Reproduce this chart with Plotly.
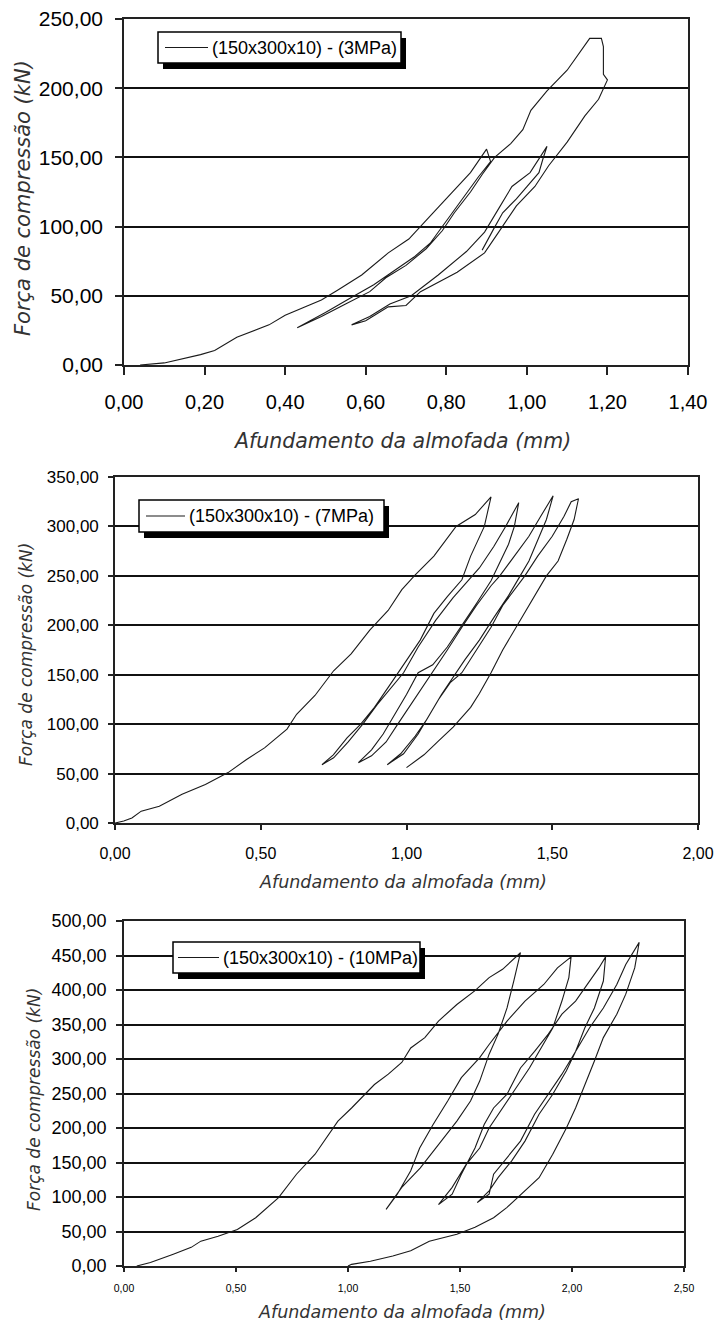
import plotly.graph_objects as go

# ---------------- data ----------------
# Chart 1: (150x300x10) - (3MPa)
disp_3mpa = [0.04, 0.10, 0.19, 0.225, 0.28, 0.36, 0.40, 0.49, 0.53, 0.59, 0.656, 0.707, 0.758, 0.80, 0.86, 0.90,
             0.91, 0.88, 0.85, 0.82, 0.79, 0.76, 0.72, 0.67, 0.62, 0.56, 0.50, 0.43,
             0.49, 0.55, 0.61, 0.65, 0.70, 0.75, 0.79, 0.82, 0.86, 0.89, 0.92, 0.96, 0.99, 1.01, 1.05, 1.10, 1.156,
             1.185, 1.19, 1.19, 1.20,
             1.178, 1.144, 1.10, 1.054, 1.02, 0.974, 0.93, 0.895, 0.827, 0.78, 0.736, 0.70, 0.656, 0.60, 0.565,
             0.61, 0.66, 0.713, 0.78, 0.85, 0.895, 0.93, 0.963, 1.008, 1.04, 1.05,
             1.04, 1.03, 0.974, 0.94, 0.917, 0.889]
force_3mpa = [0, 1.5, 7.5, 10.5, 20, 29, 36, 47, 54, 65, 81, 91, 107, 120, 139, 156,
              147, 136, 124, 112, 100, 88, 78, 68, 58, 48, 38, 27,
              35, 44, 53, 63, 72, 84, 97, 110, 125, 138, 150, 160, 170, 184, 198, 213, 236,
              236, 230, 210, 206,
              192, 180, 161, 144, 129, 115, 96, 81, 67, 60, 53, 43, 42, 32, 29,
              35, 44, 50, 65, 82, 96, 113, 129, 139, 154, 158,
              149, 139, 120, 110, 98, 83]

# Chart 2: (150x300x10) - (7MPa)
disp_7mpa = [0.0, 0.03, 0.058, 0.09, 0.152, 0.23, 0.31, 0.388, 0.45, 0.513, 0.59, 0.623, 0.686, 0.75, 0.81, 0.874,
             0.937, 0.984, 1.03, 1.094, 1.17, 1.236, 1.29,
             1.267, 1.22, 1.19, 1.14, 1.094, 1.047, 1.0, 0.953, 0.89, 0.843, 0.796, 0.749, 0.71,
             0.75, 0.80, 0.85, 0.90, 0.95, 0.99, 1.04, 1.10, 1.16, 1.21, 1.25, 1.30, 1.34, 1.385,
             1.37, 1.35, 1.31, 1.29, 1.24, 1.19, 1.14, 1.09, 1.04, 1.00, 0.96, 0.92, 0.88, 0.835,
             0.88, 0.93, 0.97, 1.02, 1.06, 1.09, 1.14, 1.19, 1.24, 1.29, 1.32, 1.37, 1.42, 1.46, 1.503,
             1.48, 1.45, 1.42, 1.39, 1.35, 1.30, 1.25, 1.20, 1.17, 1.12, 1.08, 1.04, 0.99, 0.934,
             0.98, 1.03, 1.07, 1.11, 1.15, 1.19, 1.24, 1.29, 1.33, 1.38, 1.406, 1.45, 1.50, 1.54, 1.565, 1.59,
             1.575, 1.55, 1.52, 1.48, 1.44, 1.39, 1.33, 1.29, 1.25, 1.22, 1.16, 1.11, 1.06, 1.00]
force_7mpa = [0, 2, 5, 12, 17, 29, 39, 51, 64, 76, 95, 110, 129, 154, 171, 195,
              215, 236, 251, 270, 300, 312, 330,
              300, 270, 246, 229, 212, 185, 164, 144, 117, 100, 86, 69, 59,
              66, 82, 100, 120, 138, 152, 178, 205, 228, 245, 258, 280, 300, 324,
              300, 282, 258, 245, 222, 200, 178, 160, 152, 130, 110, 90, 74, 61,
              68, 82, 100, 122, 140, 152, 175, 198, 220, 240, 250, 270, 290, 310, 331,
              307, 285, 265, 250, 230, 208, 185, 165, 152, 130, 110, 90, 70, 59,
              70, 88, 105, 125, 142, 152, 175, 198, 220, 240, 250, 270, 290, 310, 325, 328,
              307, 287, 265, 250, 230, 205, 175, 152, 131, 117, 97, 83, 69, 56]

# Chart 3: (150x300x10) - (10MPa)
disp_10mpa = [0.057, 0.118, 0.22, 0.30, 0.343, 0.42, 0.506, 0.588, 0.69, 0.77, 0.853, 0.914, 0.955, 1.016, 1.078,
              1.118, 1.18, 1.24, 1.28, 1.343, 1.404, 1.486, 1.567, 1.63, 1.69, 1.77,
              1.74, 1.71, 1.67, 1.63, 1.588, 1.547, 1.486, 1.404, 1.322, 1.24, 1.17,
              1.22, 1.28, 1.32, 1.38, 1.445, 1.506, 1.588, 1.63, 1.71, 1.79, 1.874, 1.935, 1.996,
              1.986, 1.955, 1.914, 1.853, 1.81, 1.75, 1.69, 1.63, 1.588, 1.527, 1.465, 1.404,
              1.465, 1.506, 1.567, 1.608, 1.65, 1.71, 1.77, 1.833, 1.894, 1.955, 2.016, 2.078, 2.12, 2.15,
              2.14, 2.10, 2.057, 2.016, 1.975, 1.914, 1.853, 1.79, 1.73, 1.67, 1.63, 1.577,
              1.63, 1.65, 1.71, 1.77, 1.833, 1.894, 1.955, 2.016, 2.078, 2.14, 2.20, 2.24, 2.30,
              2.28, 2.24, 2.20, 2.14, 2.10, 2.057, 2.016, 1.975, 1.914, 1.853, 1.79, 1.71, 1.65, 1.567,
              1.486, 1.363, 1.28, 1.20, 1.10, 1.016, 1.0]
force_10mpa = [0, 5, 17, 27, 36, 43, 53, 70, 99, 133, 162, 191, 210, 229, 249,
               263, 278, 295, 316, 331, 355, 379, 399, 418, 430, 454,
               413, 374, 336, 307, 268, 239, 210, 176, 142, 114, 82,
               104, 138, 171, 205, 239, 273, 302, 321, 355, 384, 408, 432, 448,
               418, 384, 345, 311, 287, 258, 229, 200, 171, 147, 114, 89,
               104, 133, 171, 205, 229, 249, 287, 311, 336, 365, 384, 413, 432, 448,
               413, 374, 345, 311, 283, 249, 220, 181, 152, 128, 109, 92,
               104, 133, 157, 181, 220, 249, 278, 311, 345, 374, 408, 437, 469,
               432, 394, 365, 331, 297, 263, 229, 200, 162, 128, 109, 85, 70, 56,
               46, 36, 22, 14.5, 7, 2.4, 0]

series_names = ["(150x300x10) - (3MPa)", "(150x300x10) - (7MPa)", "(150x300x10) - (10MPa)"]
x_title = "Afundamento da almofada (mm)"
y_title = "Força de compressão (kN)"

# ---------------- layout helpers ----------------
W, H = 717, 1324


def fx(p):
    return p / W


def fy(p):
    return 1 - p / H


fig = go.Figure()
data_sets = [(disp_3mpa, force_3mpa), (disp_7mpa, force_7mpa), (disp_10mpa, force_10mpa)]
for i, (xs, ys) in enumerate(data_sets):
    sfx = "" if i == 0 else str(i + 1)
    fig.add_trace(go.Scatter(x=xs, y=ys, mode="lines", name=series_names[i],
                             line=dict(color="#1a1a1a", width=1.1),
                             xaxis="x" + sfx, yaxis="y" + sfx, showlegend=False))

# per-chart settings: plot box (px), ranges, fonts
charts = [
    dict(box=(124, 688, 19, 365), xr=[0, 1.4], xd=0.2, yr=[0, 250], yd=50,
         xtf=20, ytf=21, xtl=8, ytl=7, xso=10, yso=8),
    dict(box=(115, 698, 477, 823), xr=[0, 2.0], xd=0.5, yr=[0, 350], yd=50,
         xtf=16, ytf=17, xtl=5, ytl=5, xso=10, yso=6),
    dict(box=(124, 684, 921, 1266), xr=[0, 2.5], xd=0.5, yr=[0, 500], yd=50,
         xtf=10.5, ytf=18, xtl=4, ytl=6, xso=8, yso=6),
]

layout = dict(width=W, height=H, autosize=False,
              margin=dict(l=0, r=0, t=0, b=0, autoexpand=False),
              paper_bgcolor="white", plot_bgcolor="white", separators=",.", showlegend=False,
              font=dict(family="Arial, Liberation Sans, sans-serif", color="black"))
for i, c in enumerate(charts):
    sfx = "" if i == 0 else str(i + 1)
    l, r, t, b = c["box"]
    layout["xaxis" + sfx] = dict(
        domain=[fx(l), fx(r)], range=c["xr"], dtick=c["xd"], tick0=0, tickformat=".2f",
        anchor="y" + sfx, ticks="outside", ticklen=c["xtl"], tickwidth=1.5, tickcolor="#222",
        showline=True, linecolor="#222", linewidth=1.6, mirror=True, showgrid=False, zeroline=False,
        automargin=False,
        tickfont=dict(size=c["xtf"], color="black"), ticklabelstandoff=c["xso"], fixedrange=True)
    layout["yaxis" + sfx] = dict(
        domain=[fy(b), fy(t)], range=c["yr"], dtick=c["yd"], tick0=0, tickformat=".2f",
        anchor="x" + sfx, ticks="outside", ticklen=c["ytl"], tickwidth=1.5, tickcolor="#222",
        showline=True, linecolor="#222", linewidth=1.6, mirror=True, showgrid=True,
        gridcolor="#111", gridwidth=1.5, zeroline=False, automargin=False,
        tickfont=dict(size=c["ytf"], color="black"), ticklabelstandoff=c["yso"], fixedrange=True)

# legend boxes drawn with shadow (px): box left, right, top, bottom; sample line x0, x1
legend_boxes = [(158, 401, 32, 63, 165, 208), (139, 384, 500, 532, 146, 185), (173, 420, 942, 973, 178, 219)]
shapes = []
annots = []
for i, (x0, x1, y0, y1, s0, s1) in enumerate(legend_boxes):
    shapes.append(dict(type="rect", xref="paper", yref="paper", x0=fx(x0 + 5), x1=fx(x1 + 5),
                       y0=fy(y1 + 6), y1=fy(y0 + 6), fillcolor="black", line=dict(width=0), layer="above"))
    shapes.append(dict(type="rect", xref="paper", yref="paper", x0=fx(x0), x1=fx(x1),
                       y0=fy(y1), y1=fy(y0), fillcolor="white", line=dict(color="black", width=1.5),
                       layer="above"))
    ym = (y0 + y1) / 2
    shapes.append(dict(type="line", xref="paper", yref="paper", x0=fx(s0), x1=fx(s1), y0=fy(ym), y1=fy(ym),
                       line=dict(color="#1a1a1a", width=1.2), layer="above"))
    annots.append(dict(text=series_names[i], x=fx(s1 + 2), y=fy(ym), xref="paper", yref="paper",
                       xanchor="left", yanchor="middle", showarrow=False,
                       font=dict(family="Arial, Liberation Sans, sans-serif", size=18, color="black")))
layout["shapes"] = shapes

# axis titles as annotations
title_font = "DejaVu Sans, Verdana, sans-serif"
ytitle_pos = [(23, 198, 21), (26, 655, 17), (34, 1100, 17)]
xtitle_pos = [(402, 441, 20.5), (403, 882, 17.5), (402, 1312, 17.5)]
for (px, py, fs) in ytitle_pos:
    annots.append(dict(text="<i>" + y_title + "</i>", x=fx(px), y=fy(py), xref="paper", yref="paper",
                       xanchor="center", yanchor="middle", textangle=-90, showarrow=False,
                       font=dict(family=title_font, size=fs, color="#333")))
for (px, py, fs) in xtitle_pos:
    annots.append(dict(text="<i>" + x_title + "</i>", x=fx(px), y=fy(py), xref="paper", yref="paper",
                       xanchor="center", yanchor="middle", showarrow=False,
                       font=dict(family=title_font, size=fs, color="#333")))
layout["annotations"] = annots

fig.update_layout(**layout)
fig.write_html("out.html", config={"displayModeBar": False},
               post_script="document.body.style.margin='0';document.body.style.overflow='hidden';")
